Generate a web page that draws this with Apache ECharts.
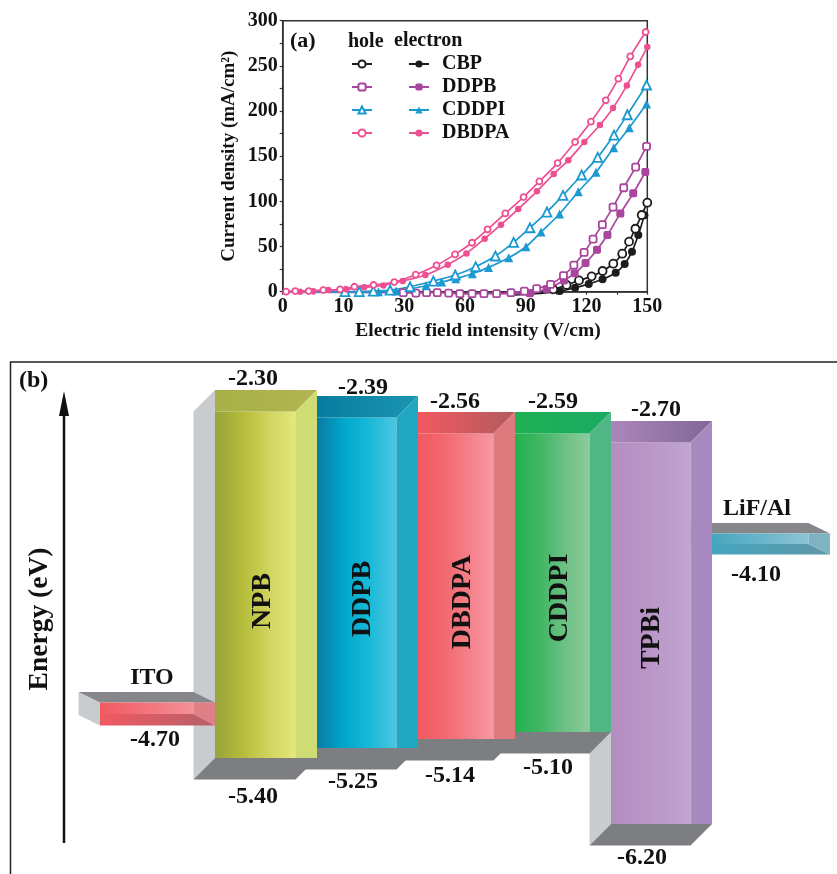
<!DOCTYPE html>
<html><head><meta charset="utf-8">
<style>html,body{margin:0;padding:0;background:#fff}#c{width:837px;height:874px}</style>
<script src="https://cdn.jsdelivr.net/npm/echarts@6/dist/echarts.min.js"></script>
</head><body><div id="c"></div>
<script>
// ---------- DATA: panel (a) ----------
const xTickLabels = ['0','10','30','60','90','120','150']; // evenly spaced on the original axis
const cbpHole = [[90,-1],[104.5,-1.5],[111.3,2.6],[116.8,7.4],[121.9,12.5],[127.1,17],[131.6,22.9],[136,31],[139.7,42.1],[142.5,55.4],[145.1,69.7],[147.7,84.9],[150,98.5]];
const cbpElectron = [[93.5,-3.7],[105.9,-1.8],[114,0.7],[120.3,4.4],[125.9,8.5],[131.6,13.7],[137,21],[140.7,30.6],[143.7,44.3],[146.3,62.7],[148.8,84.5]];
const ddpbHole = [[1.4,-0.5],[49.6,-1.1],[54.8,-1.5],[59.2,-1.1],[63.6,-1.1],[68.3,-1.5],[72.9,-2.2],[77.9,-2.2],[82.8,-2.2],[88,-2.2],[93.9,-1.1],[99.4,0.7],[104.5,3.3],[110.2,8.1],[115.5,17.7],[119.8,29.5],[124,43.5],[127.7,58.3],[131.5,74.2],[135.9,93.7],[140.3,115.1],[145.2,138],[149.7,160.9]];
const ddpbElectron = [[88,-2.2],[101.7,-1.8],[108.6,3],[115.7,12.5],[120.1,20.3],[124.6,31.7],[129.3,46.5],[133.6,62.7],[138.9,86.7],[144.2,108.9],[149.2,132.5]];
const cddpiHole = [[1.4,0],[25.6,0],[31.5,0],[37.3,0.7],[44.2,1.8],[52.4,5.5],[62,11.8],[71,18.5],[79.4,27.7],[87.5,39.5],[95,54.6],[101.7,70.8],[108.7,88.2],[115.3,106.6],[123,129.2],[129.6,148.7],[136.3,173.4],[141.8,195.9],[149.7,228.8]];
const cddpiElectron = [[1.4,-0.5],[39.4,0],[46.6,0.7],[59,6.6],[65.4,10.7],[71.2,14.4],[78,19.9],[84.7,26.9],[93,37.6],[100.1,49.8],[106.3,66.1],[113.9,86],[121.6,110.7],[128.9,132.1],[136.2,159.4],[142.6,181.5],[149.7,207.7]];
const dbdpaHole = [[1.4,0],[5.2,0.7],[10.7,0.7],[16.7,1.8],[23.6,2.6],[29.5,5.5],[37.4,7.4],[45.9,10.7],[54.7,18.8],[63.3,29.2],[70.9,41.3],[77.9,54.2],[84.3,69],[91.6,86.7],[99.1,104.8],[105.6,122.1],[113.1,142.4],[120.3,165.7],[126.8,188.2],[132.9,211.8],[138.1,235.8],[143,260.5],[149.3,287.5]];
const dbdpaElectron = [[1.4,0],[7.1,0],[12.6,0.5],[18.8,1.8],[26.1,2.6],[33.5,4.8],[41.4,7],[49.4,11.8],[58.7,18.5],[67.9,29.9],[75.6,42.4],[83.1,58.7],[89.8,74.2],[96.9,91.5],[104.6,111.1],[111.5,130.3],[117.5,145.4],[124.1,165.7],[130.5,184.5],[135.9,203.3],[141.6,228.4],[146.2,251.3],[150,270.8]];

// ---------- DATA: panel (b) ----------
const layerNames = ['NPB','DDPB','DBDPA','CDDPI','TPBi'];
const lumo = [-2.30,-2.39,-2.56,-2.59,-2.70];
const homo = [-5.40,-5.25,-5.14,-5.10,-6.20];
const electrodeNames = ['ITO','LiF/Al'];
const workFunction = [-4.70,-4.10];

// ---------- LAYOUT (schematic drawing, not data) ----------
const FONT = '"Liberation Serif","Times New Roman",serif';
const INK = '#111';
// The diagram is not drawn to scale: each energy sits at its own height on the hidden axis.
const schematic = {'-2.3':-2.30,'-2.39':-2.354,'-2.56':-2.498,'-2.59':-2.498,'-2.7':-2.579,'-4.1':-3.495,'-4.7':-5.013,'-5.1':-5.373,'-5.14':-5.436,'-5.25':-5.517,'-5.4':-5.606,'-6.2':-6.199};
const level = v => schematic[String(v)];
const edges = [215,317,418,515,611,712];
const DEPTH = 21.5;
const fills = [
 {front:['#98a33a','#b4bb38','#d0d45f','#e4e87e'],top:['#a6b046','#b3b552'],strip:'#cfdc73'},
 {front:['#0a7ba3','#00a6cb','#19bad8','#4fc5e2'],top:['#087ca0','#1b95b2'],strip:'#22a7c3'},
 {front:['#f15a60','#f2676e','#f47f88','#f598a4'],top:['#f15a60','#b35a5e'],strip:'#de7a7e'},
 {front:['#21b24b','#40b663','#6cc084','#8ccb9c'],top:['#1fb155','#1baa62'],strip:'#4fb783'},
 {front:['#b48dc1','#b892c5','#bc9bca','#c1a5d0'],top:['#ac86bb','#7f6797'],strip:'#a98ac0'}
];
const nameCX = [263,363,463,560,652];
const nameCY = [601,599,602,598,638];
const topLabelPos = [[253,379],[363,388],[455,402],[553,402],[656,410]];
const botLabelPos = [[253,797],[353,782],[450,776],[548,768],[642,858]];
const elecLayout = [
 {x0:100,x1:215,h:23,name:[152,678],val:[155,740],a:'#f05a60',b:'#f58f98',c:'#b5606a',r:'#e07f86'},
 {x0:712,x1:830,h:21,name:[757,509],val:[756,575],a:'#46a6bf',b:'#8cc4d4',c:'#5f97a8',r:'#7db3c2'}
];
const grad = cs => ({type:'linear',x:0,y:0,x2:1,y2:0,colorStops:cs.map((c,i)=>({offset:i/(cs.length-1),color:c}))});
const poly = (pts,fill) => ({type:'polygon',shape:{points:pts},style:{fill}});
const txt = (t,x,y,size,rot) => ({type:'text',x,y,rotation:rot||0,style:{text:t,x:0,y:0,align:'center',verticalAlign:'middle',fill:INK,font:`bold ${size}px ${FONT}`}});

function renderLayer(p, api){
  const i = api.value(0), f = fills[i], d = DEPTH;
  const a = api.coord([edges[i], level(lumo[i])]);
  const b = api.coord([edges[i+1], level(homo[i])]);
  const x0=a[0], yt=a[1], x1=b[0], yb=b[1];
  return {type:'group',children:[
    poly([[x0-d,yt+d],[x0,yt],[x0,yb],[x0-d,yb+d]],'#c9cccf'),
    poly([[x0,yb],[x1,yb],[x1-d,yb+d],[x0-d,yb+d]],'#7c7e81'),
    {type:'rect',shape:{x:x0,y:yt+d,width:x1-d-x0,height:yb-yt-d},style:{fill:grad(f.front)}},
    poly([[x0,yt],[x1,yt],[x1-d,yt+d],[x0,yt+d]],grad(f.top)),
    poly([[x1-d,yt+d],[x1,yt],[x1,yb],[x1-d,yb]],f.strip)
  ]};
}
function renderElectrode(p, api){
  const i = api.value(0), L = elecLayout[i], d = DEPTH, e = 10.5, h = L.h;
  const a = api.coord([L.x0, level(workFunction[i])]);
  const b = api.coord([L.x1, level(workFunction[i])]);
  const x0=a[0], x1=b[0], yt=a[1], yf=yt+e, yb=yf+h, ym=yf+h/2;
  return {type:'group',children:[
    poly([[x0-d,yt],[x0,yf],[x0,yb],[x0-d,yt+h]],'#c9cccf'),
    poly([[x0-d,yt],[x1-d,yt],[x1,yf],[x0,yf]],'#85878a'),
    {type:'rect',shape:{x:x0,y:yf,width:x1-d-x0,height:h/2},style:{fill:grad([L.a,L.b])}},
    poly([[x0,yb],[x1,yb],[x1-d,ym],[x0,ym]],grad([L.a,L.c])),
    poly([[x1-d,yf],[x1,yf],[x1,yb],[x1-d,ym]],L.r)
  ]};
}
function renderLabels(p, api){
  const i = api.value(0);
  if(i<5){
    return {type:'group',children:[
      txt(layerNames[i],nameCX[i],nameCY[i],28,Math.PI/2),
      txt(lumo[i].toFixed(2),topLabelPos[i][0],topLabelPos[i][1],24),
      txt(homo[i].toFixed(2),botLabelPos[i][0],botLabelPos[i][1],24)
    ]};
  }
  const k=i-5, L=elecLayout[k];
  return {type:'group',children:[
    txt(electrodeNames[k],L.name[0],L.name[1],24),
    txt(workFunction[k].toFixed(2),L.val[0],L.val[1],24)
  ]};
}

const lineSeries = (name,pts,tail,color,symbol,size,open) => ({
  name,type:'line',xAxisIndex:0,yAxisIndex:0,
  data:pts.map((p,i)=> i<tail ? {value:p,symbol:'none'} : p),
  clip:false,smooth:0.25,symbol,symbolSize:size,showAllSymbol:true,
  lineStyle:{color,width:1.7},
  itemStyle:open?{color:'#fff',borderColor:color,borderWidth:1.8}:{color,borderColor:color,borderWidth:0},
  emphasis:{disabled:true},animation:false,z:3
});
const BLACK='#1c1c1c',PURPLE='#a8459d',BLUE='#1c99d0',PINK='#ee4f92';

const chart = echarts.init(document.getElementById('c'),null,{renderer:'canvas'});
const axisText = {color:INK,fontFamily:FONT,fontWeight:'bold',fontSize:20};
chart.setOption({
  animation:false,backgroundColor:'#fff',
  grid:[
    {left:282.7,top:20.7,width:364.6,height:271,show:true,borderColor:'#333',borderWidth:1.5,backgroundColor:'transparent',containLabel:false},
    {left:10.5,top:362,width:826.5,height:512,show:false}
  ],
  xAxis:[
    {gridIndex:0,type:'value',min:0,max:150,interval:25,
     axisLine:{show:true,onZero:false,lineStyle:{color:'#333',width:1.5}},
     axisTick:{show:true,length:3,inside:false,lineStyle:{color:'#333',width:1.2}},
     minorTick:{show:true,splitNumber:2,length:3,lineStyle:{color:'#333',width:1.2}},
     splitLine:{show:false},
     axisLabel:{...axisText,margin:5,showMinLabel:true,showMaxLabel:true,formatter:v=>xTickLabels[Math.round(v/25)]},
     name:'Electric field intensity (V/cm)',nameLocation:'middle',nameGap:29,
     nameTextStyle:{...axisText,fontSize:19.5,padding:[0,0,0,26]}},
    {gridIndex:1,type:'value',min:10.5,max:837,show:false}
  ],
  yAxis:[
    {gridIndex:0,type:'value',min:0,max:300,interval:50,
     axisLine:{show:true,onZero:false,lineStyle:{color:'#333',width:1.5}},
     axisTick:{show:true,length:3,lineStyle:{color:'#333',width:1.2}},
     minorTick:{show:true,splitNumber:2,length:3,lineStyle:{color:'#333',width:1.2}},
     splitLine:{show:false},
     axisLabel:{...axisText,margin:5},
     name:'Current density (mA/cm²)',nameLocation:'middle',nameGap:44,
     nameTextStyle:{...axisText,fontSize:19}},
    {gridIndex:1,type:'value',min:-6.648,max:-2.048,show:false}
  ],
  legend:[
    {left:346,top:49,orient:'vertical',itemWidth:20,itemHeight:9,itemGap:3,selectedMode:false,
     data:['CBP hole','DDPB hole','CDDPI hole','DBDPA hole'],formatter:()=>' ',textStyle:{fontFamily:FONT,fontSize:20}},
    {left:403,top:49,orient:'vertical',itemWidth:20,itemHeight:9,itemGap:3,selectedMode:false,
     data:['CBP','DDPB','CDDPI','DBDPA'],
     textStyle:{color:INK,fontFamily:FONT,fontWeight:'bold',fontSize:20,padding:[0,0,0,8]}}
  ],
  graphic:[
    {type:'text',left:290,top:30,style:{text:'(a)',fill:INK,font:`bold 22px ${FONT}`}},
    {type:'text',left:348,top:32,style:{text:'hole',fill:INK,font:`bold 20px ${FONT}`}},
    {type:'text',left:394,top:31,style:{text:'electron',fill:INK,font:`bold 20px ${FONT}`}},
    {type:'text',left:19,top:369,style:{text:'(b)',fill:INK,font:`bold 24px ${FONT}`}},
    {type:'text',x:40,y:619,rotation:Math.PI/2,style:{text:'Energy (eV)',x:0,y:0,align:'center',verticalAlign:'middle',fill:INK,font:`bold 27.5px ${FONT}`}},
    {type:'polyline',shape:{points:[[10.5,874],[10.5,362],[837,362]]},style:{stroke:'#222',lineWidth:1.5,fill:'none'}},
    {type:'line',shape:{x1:64,y1:843,x2:64,y2:405},style:{stroke:'#111',lineWidth:2.5}},
    {type:'polygon',shape:{points:[[64,391],[69,416],[59,416]]},style:{fill:'#111'}}
  ],
  series:[
    lineSeries('CBP',cbpElectron,2,BLACK,'circle',8,false),
    lineSeries('CBP hole',cbpHole,2,BLACK,'circle',8,true),
    lineSeries('DDPB',ddpbElectron,1,PURPLE,'roundRect',8,false),
    lineSeries('DDPB hole',ddpbHole,1,PURPLE,'roundRect',7,true),
    lineSeries('CDDPI',cddpiElectron,1,BLUE,'triangle',9,false),
    lineSeries('CDDPI hole',cddpiHole,1,BLUE,'triangle',9,true),
    lineSeries('DBDPA',dbdpaElectron,0,PINK,'circle',6.5,false),
    lineSeries('DBDPA hole',dbdpaHole,0,PINK,'circle',6,true),
    {type:'custom',name:'LiF/Al slab',xAxisIndex:1,yAxisIndex:1,coordinateSystem:'cartesian2d',renderItem:renderElectrode,data:[[1]],silent:true,z:2,clip:false,animation:false},
    {type:'custom',name:'Layers',xAxisIndex:1,yAxisIndex:1,coordinateSystem:'cartesian2d',renderItem:renderLayer,data:[[4],[3],[2],[1],[0]],silent:true,z:3,clip:false,animation:false},
    {type:'custom',name:'ITO slab',xAxisIndex:1,yAxisIndex:1,coordinateSystem:'cartesian2d',renderItem:renderElectrode,data:[[0]],silent:true,z:4,clip:false,animation:false},
    {type:'custom',name:'Labels',xAxisIndex:1,yAxisIndex:1,coordinateSystem:'cartesian2d',renderItem:renderLabels,data:[[0],[1],[2],[3],[4],[5],[6]],silent:true,z:5,clip:false,animation:false}
  ]
});
</script></body></html>
